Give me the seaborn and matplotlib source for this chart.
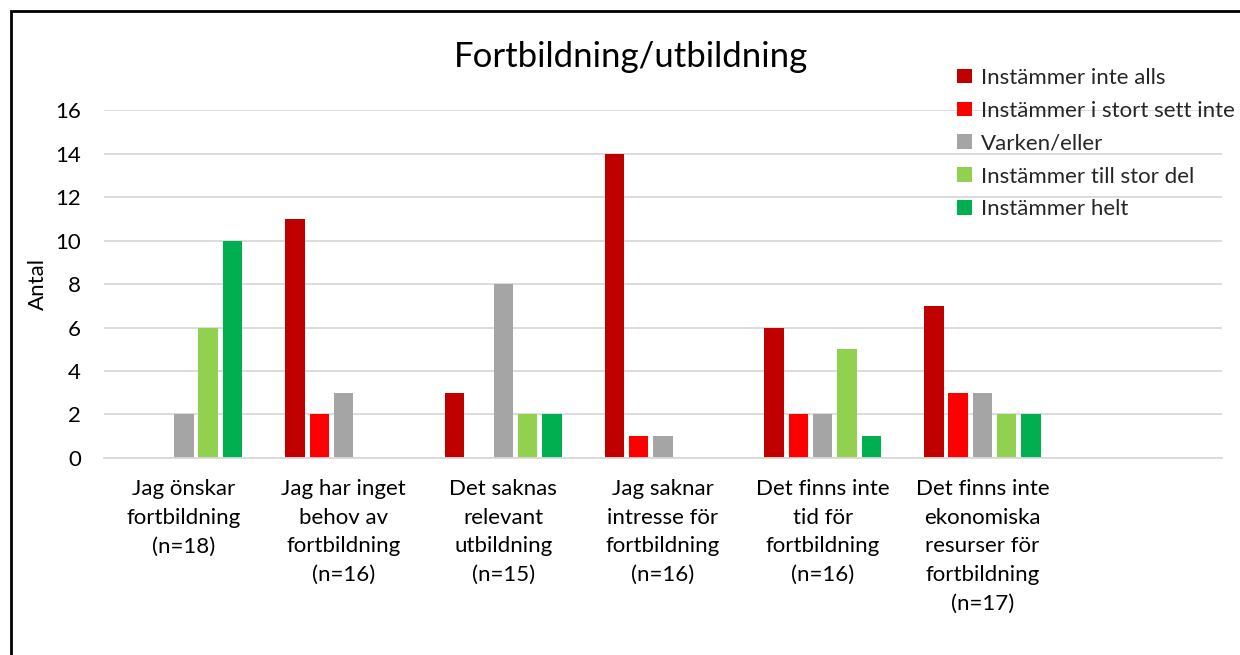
import pandas as pd
import seaborn as sns
from matplotlib import pyplot as plt
from matplotlib.patches import Patch, Rectangle

# frågor (x-axel) och svarsalternativ
fragor = ['Jag önskar\nfortbildning\n(n=18)',
          'Jag har inget\nbehov av\nfortbildning\n(n=16)',
          'Det saknas\nrelevant\nutbildning\n(n=15)',
          'Jag saknar\nintresse för\nfortbildning\n(n=16)',
          'Det finns inte\ntid för\nfortbildning\n(n=16)',
          'Det finns inte\nekonomiska\nresurser för\nfortbildning\n(n=17)']
svar = ['Instämmer inte alls', 'Instämmer i stort sett inte', 'Varken/eller',
        'Instämmer till stor del', 'Instämmer helt']
farger = ['#C00000', '#FF0000', '#A5A5A5', '#92D050', '#00B050']

# antal per svarsalternativ, en lista per fråga
onskar = [0, 0, 2, 6, 10]
inget_behov = [11, 2, 3, 0, 0]
saknas = [3, 0, 8, 2, 2]
intresse = [14, 1, 1, 0, 0]
tid = [6, 2, 2, 5, 1]
ekonomi = [7, 3, 3, 2, 2]
antal = [onskar, inget_behov, saknas, intresse, tid, ekonomi]

rows = []
for f, vals in zip(fragor, antal):
    for s, v in zip(svar, vals):
        rows.append({'fraga': f, 'svar': s, 'antal': v})
df = pd.DataFrame(rows)

sns.set_style('white')
plt.rcParams['font.family'] = ['Lato', 'DejaVu Sans']
text_col = '#000000'
grid_col = '#D9D9D9'

fig = plt.figure(figsize=(12.4, 6.55), dpi=100)
ax = fig.add_axes([0.0839, 0.3008, 0.9016, 0.5312])

sns.barplot(data=df, x='fraga', y='antal', hue='svar', order=fragor,
            hue_order=svar, palette=farger, saturation=1, width=0.76, gap=0.2,
            linewidth=0, errorbar=None, legend=False, ax=ax)

ax.set_xlim(-0.5, 6.5)
ax.set_ylim(0, 16)
ax.set_yticks(range(0, 17, 2))
ax.yaxis.grid(True, color=grid_col, linewidth=1.3)
ax.set_axisbelow(True)
for s in ['top', 'right', 'left']:
    ax.spines[s].set_visible(False)
ax.spines['bottom'].set_color(grid_col)
ax.spines['bottom'].set_linewidth(1.3)
ax.tick_params(axis='both', length=0, labelsize=16, colors=text_col)
ax.tick_params(axis='y', pad=16.5)
ax.tick_params(axis='x', pad=15)
for lab in ax.get_xticklabels():
    lab.set_linespacing(1.55)
ax.set_xlabel('')
ax.set_ylabel('Antal', fontsize=16, color=text_col)
ax.yaxis.set_label_coords(-0.05, 0.5)

fig.text(0.509, 0.913, 'Fortbildning/utbildning', ha='center', va='center',
         fontsize=25, color=text_col)

handles = [Patch(facecolor=c, edgecolor='none') for c in farger]
fig.legend(handles, svar, loc='upper left', bbox_to_anchor=(0.765, 0.91),
           frameon=False, fontsize=16, handlelength=0.65, handleheight=0.65,
           handletextpad=0.4, labelspacing=0.58, borderaxespad=0)

# ram runt diagrammet (vänster och överkant)
fig.add_artist(Rectangle((0.0085, -0.1), 1.2, 1.083, transform=fig.transFigure,
                         fill=False, edgecolor='black', linewidth=2))

plt.savefig('out.png', dpi=100)
